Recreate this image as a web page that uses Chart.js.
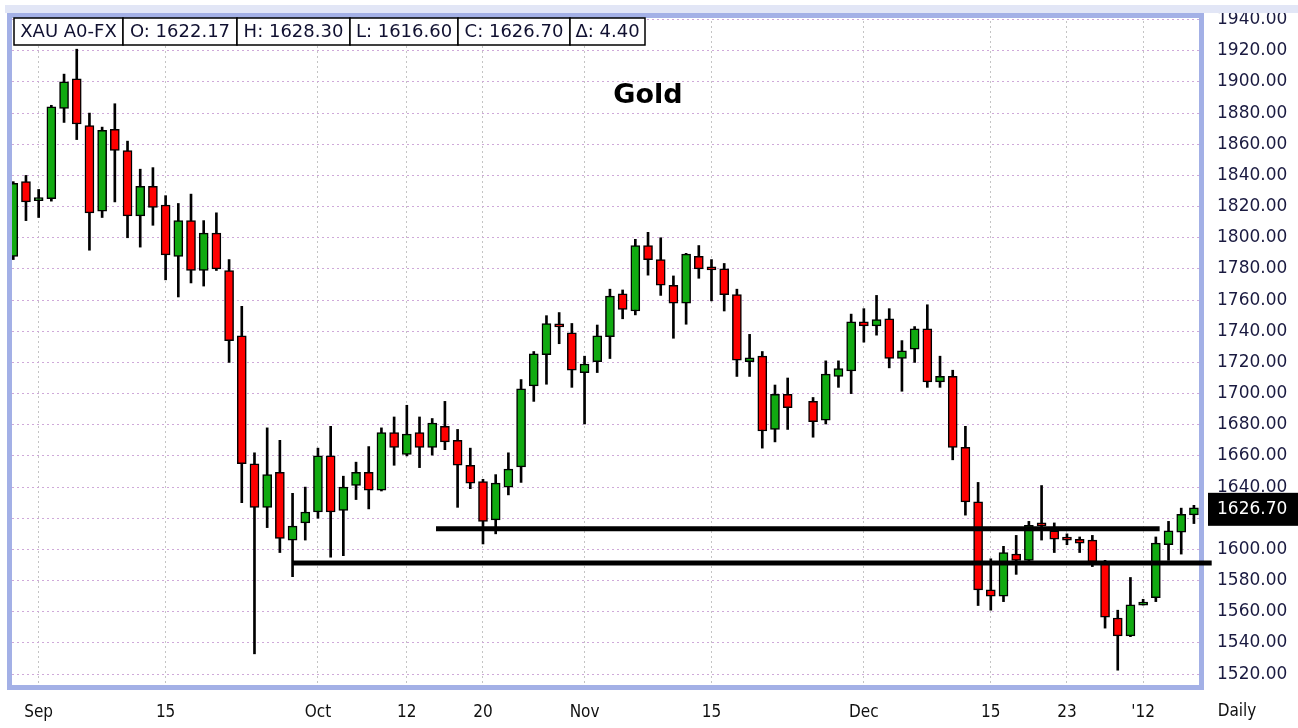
<!DOCTYPE html>
<html>
<head>
<meta charset="utf-8">
<script src="https://cdn.jsdelivr.net/npm/chart.js@4.4.1/dist/chart.umd.min.js"></script>
<style>
  html, body { margin: 0; padding: 0; background: #fff; }
</style>
</head>
<body>
<canvas id="gold" width="1298" height="728"></canvas>
<script>
// daily OHLC, one entry per trading day (index 62 = Thanksgiving, no bar)
const open = [1788, 1836, 1823.8, 1825, 1883, 1902, 1872, 1817, 1869.5, 1856,
  1814, 1833, 1821, 1788, 1811, 1779, 1803, 1779, 1737, 1655,
  1627, 1649.5, 1606, 1617, 1624, 1660, 1625, 1641, 1649.5, 1638,
  1675, 1661, 1675, 1665.5, 1679, 1670, 1654, 1643.5, 1619, 1640,
  1653, 1705, 1725, 1743.5, 1739, 1713.5, 1720.5, 1736.5, 1764, 1753,
  1795, 1786, 1769.5, 1758, 1788, 1780, 1780, 1763.5, 1720.5, 1724,
  1677, 1699.5, null, 1695, 1683, 1711, 1714.5, 1746, 1743.5, 1748,
  1722.5, 1728.5, 1741.5, 1707.5, 1711, 1665.5, 1630.5, 1574, 1570, 1597,
  1593, 1615.5, 1612, 1606.5, 1606.5, 1606, 1591, 1556, 1544.5, 1564.3,
  1569, 1603, 1611, 1622.17];
const high = [1836, 1840, 1831, 1885, 1905, 1921, 1880, 1871, 1886, 1862,
  1844, 1845, 1827, 1822, 1828, 1811, 1816, 1786, 1756, 1662,
  1678, 1670, 1636, 1640, 1665, 1679, 1647, 1656, 1666, 1678,
  1685, 1692.5, 1685, 1684, 1695, 1677, 1665, 1645, 1648, 1662,
  1709, 1727, 1750, 1752, 1745, 1724, 1744, 1767, 1766.5, 1799,
  1803.5, 1800, 1775.5, 1790, 1795, 1786, 1783.5, 1767, 1738, 1727,
  1705.5, 1710, null, 1697.5, 1721, 1721, 1751, 1754.5, 1763, 1754.5,
  1734, 1743, 1757, 1724, 1715, 1679, 1643, 1594, 1602, 1609,
  1618, 1641, 1617, 1610, 1608, 1609, 1593, 1561, 1582, 1568,
  1608, 1618, 1626.5, 1628.30];
const low = [1786, 1811, 1813, 1823.5, 1874, 1863, 1792, 1813, 1823, 1800,
  1794, 1808, 1773, 1762, 1771, 1769, 1779, 1720, 1630, 1533,
  1614, 1598, 1582.5, 1606, 1620, 1595, 1596, 1632, 1626, 1637.5,
  1654, 1660, 1652.5, 1660.5, 1664, 1627, 1639, 1603.5, 1610, 1635,
  1643, 1695, 1706, 1732, 1704, 1680.5, 1713.5, 1722.5, 1748, 1750.5,
  1776, 1763, 1735.5, 1744.5, 1774, 1759.5, 1753, 1711, 1711, 1665,
  1669, 1677, null, 1672, 1680.5, 1704, 1700, 1733, 1737.5, 1716.5,
  1701.5, 1720, 1704, 1704, 1657.5, 1622, 1564, 1561, 1566.5, 1584,
  1592, 1606, 1598, 1603, 1598, 1589, 1549.5, 1522.5, 1544, 1564.3,
  1566.5, 1593, 1597, 1616.60];
const close = [1835, 1823, 1824.4, 1884, 1900, 1873, 1816, 1869, 1856, 1814,
  1833, 1819.5, 1789, 1811, 1779, 1803, 1780, 1734, 1655, 1627,
  1648, 1607, 1615, 1624, 1660, 1624, 1640, 1649.5, 1638, 1675,
  1665.5, 1674, 1665.5, 1681, 1669, 1654, 1642.5, 1618, 1642.5, 1651.5,
  1703, 1725.5, 1745, 1742.8, 1715, 1719, 1737, 1762.5, 1754, 1795,
  1786, 1769.5, 1758, 1789.5, 1780, 1779.4, 1763.5, 1721.5, 1723, 1676,
  1699.5, 1691, null, 1682, 1712.5, 1716, 1746, 1743.5, 1747.5, 1722.5,
  1727.5, 1741.5, 1707.5, 1711, 1665.5, 1630.5, 1574, 1570, 1598, 1593,
  1615.5, 1615.1, 1606.5, 1606, 1604, 1592, 1556.5, 1544.5, 1564.5, 1564.8,
  1604, 1612, 1622.5, 1626.70];

// x axis labels (trading-day index -> text)
const tickPos = [2, 12, 24, 31, 37, 45, 55, 67, 77, 83, 89];
const tickText = ['Sep', '15', 'Oct', '12', '20', 'Nov', '15', 'Dec', '15', '23', "'12"];

// drawn support lines: level, start day, end day
const lineLevel = [1591.3, 1613.2];
const lineFrom = [22, 33.3];
const lineTo = [94.4, 90.3];

const headerText = ['XAU A0-FX', 'O: 1622.17', 'H: 1628.30', 'L: 1616.60', 'C: 1626.70', '\u0394: 4.40'];
const lastPrice = 1626.70;

const GREEN = '#11aa11';
const RED = '#ff0000';
const NARROW = '"Liberation Sans Narrow", "DejaVu Sans Condensed", "Liberation Sans"';

const bodies = [], wicks = [];
open.forEach((o, i) => {
  if (o === null) return;
  bodies.push({ x: i, y: [o, close[i]], up: close[i] >= o });
  wicks.push({ x: i, y: [low[i], high[i]] });
});

const decor = {
  id: 'decor',
  beforeDatasetsDraw(chart) {
    const { ctx, chartArea: a } = chart;
    ctx.save();
    ctx.strokeStyle = '#a3b0e6';
    ctx.lineWidth = 5;
    ctx.strokeRect(a.left - 2.5, a.top - 0.5, a.right - a.left + 5, a.bottom - a.top + 3);
    ctx.restore();
  },
  afterDraw(chart) {
    const { ctx, chartArea: a, scales } = chart;
    ctx.save();

    // pale strip along the top edge
    ctx.fillStyle = '#fff';
    ctx.fillRect(0, 0, 1298, 5);
    ctx.fillStyle = '#e2e6f6';
    ctx.fillRect(5, 5, 1293, 8);

    // title
    ctx.fillStyle = '#000';
    ctx.font = 'bold 27px "DejaVu Sans"';
    ctx.textAlign = 'center';
    ctx.textBaseline = 'middle';
    ctx.fillText('Gold', 648, 96);

    // OHLC header strip
    const edges = [14, 123, 237, 350, 458, 570, 645];
    ctx.font = '18px "DejaVu Sans"';
    for (let i = 0; i < headerText.length; i++) {
      const x0 = edges[i], x1 = edges[i + 1];
      ctx.fillStyle = '#fff';
      ctx.fillRect(x0, 18, x1 - x0, 27);
      ctx.strokeStyle = '#000';
      ctx.lineWidth = 1.5;
      ctx.strokeRect(x0, 18, x1 - x0, 27);
      ctx.fillStyle = '#101030';
      ctx.fillText(headerText[i], (x0 + x1) / 2, 32);
    }

    // last price tag
    const py = scales.y.getPixelForValue(lastPrice);
    ctx.fillStyle = '#000';
    ctx.fillRect(a.right + 9, py - 15, 1298 - a.right - 9, 33);
    ctx.fillStyle = '#fff';
    ctx.textAlign = 'left';
    ctx.font = '17px "DejaVu Sans"';
    ctx.fillText(lastPrice.toFixed(2), a.right + 18, py + 2);

    // period label
    ctx.fillStyle = '#101010';
    ctx.font = '17px ' + NARROW;
    ctx.textAlign = 'center';
    ctx.fillText('Daily', 1237, 712);
    ctx.restore();
  }
};

const lineSets = lineLevel.map((lv, k) => ({
  type: 'line',
  data: [{ x: lineFrom[k], y: lv }, { x: lineTo[k], y: lv }],
  borderColor: '#000',
  borderWidth: 5,
  pointRadius: 0,
  clip: false
}));

new Chart(document.getElementById('gold'), {
  type: 'bar',
  data: {
    datasets: [
      ...lineSets,
      {
        data: bodies,
        grouped: false,
        barThickness: 9,
        minBarLength: 3,
        borderWidth: 1.5,
        borderColor: '#000',
        borderSkipped: false,
        backgroundColor: (c) => (c.raw && c.raw.up ? GREEN : RED)
      },
      {
        data: wicks,
        grouped: false,
        barThickness: 2,
        borderWidth: 0,
        backgroundColor: '#000'
      }
    ]
  },
  options: {
    responsive: false,
    animation: false,
    layout: { padding: { left: 12, top: 16, right: 0, bottom: 0 } },
    plugins: { legend: { display: false }, tooltip: { enabled: false } },
    scales: {
      x: {
        type: 'linear',
        offset: false,
        min: -0.1,
        max: 93.4,
        afterFit: (s) => { s.height = 43; s.paddingLeft = 0; s.paddingRight = 0; },
        afterBuildTicks: (s) => { s.ticks = tickPos.map(v => ({ value: v })); },
        grid: { color: '#c4c4c4', drawTicks: false, offset: false },
        border: { display: false, dash: [2, 3] },
        ticks: {
          autoSkip: false,
          maxRotation: 0,
          padding: 17,
          color: '#101010',
          font: { family: NARROW, size: 17 },
          callback: (v) => tickText[tickPos.indexOf(v)] || ''
        }
      },
      y: {
        position: 'right',
        min: 1513,
        max: 1942.3,
        afterFit: (s) => { s.width = 99; s.paddingTop = 0; s.paddingBottom = 0; },
        grid: { color: '#cfa9d9', drawTicks: false },
        border: { display: false, dash: [2, 3] },
        ticks: {
          stepSize: 20,
          includeBounds: false,
          padding: 18,
          color: '#1a1a40',
          font: { family: '"DejaVu Sans"', size: 17 },
          callback: (v) => (v === 1620 ? '' : v.toFixed(2))
        }
      }
    }
  },
  plugins: [decor]
});
</script>
</body>
</html>
